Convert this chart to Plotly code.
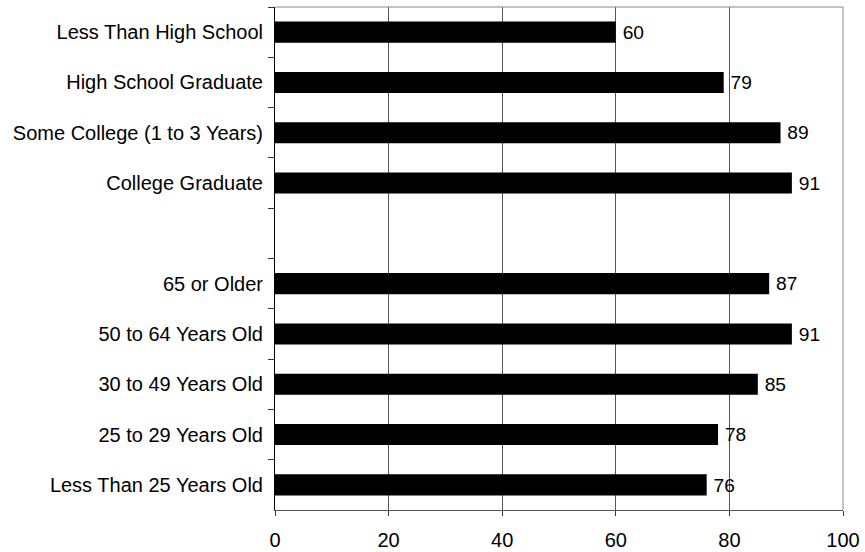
import plotly.graph_objects as go

# Survey groups, top to bottom; the blank entry separates education from age
categories = [
    "Less Than High School",
    "High School Graduate",
    "Some College (1 to 3 Years)",
    "College Graduate",
    " ",
    "65 or Older",
    "50 to 64 Years Old",
    "30 to 49 Years Old",
    "25 to 29 Years Old",
    "Less Than 25 Years Old",
]
values = [60, 79, 89, 91, None, 87, 91, 85, 78, 76]
x_ticks = [0, 20, 40, 60, 80, 100]

FONT = "Arial, Liberation Sans, sans-serif"
SIZE = 20

fig = go.Figure(
    go.Bar(
        x=values,
        y=categories,
        orientation="h",
        marker=dict(color="black", line=dict(width=0)),
        # thin space keeps the value a little clear of the bar end
        text=[("" if v is None else "\u2009" + str(v)) for v in values],
        textposition="outside",
        textfont=dict(family=FONT, size=SIZE, color="black"),
        cliponaxis=False,
        width=0.42,
        hoverinfo="x+y",
    )
)

fig.update_layout(
    width=865,
    height=552,
    margin=dict(l=275, r=22, t=7, b=42),
    paper_bgcolor="white",
    plot_bgcolor="white",
    showlegend=False,
    font=dict(family=FONT, size=SIZE, color="black"),
    xaxis=dict(
        range=[0, 100],
        tickvals=x_ticks,
        showgrid=True,
        gridcolor="#555555",
        gridwidth=1,
        showline=True,
        linecolor="#555555",
        linewidth=1,
        ticks="outside",
        ticklen=5,
        tickcolor="#333333",
        ticklabelstandoff=7,
        automargin=False,
        zeroline=False,
        tickfont=dict(family=FONT, size=SIZE, color="black"),
    ),
    yaxis=dict(
        type="category",
        categoryorder="array",
        categoryarray=categories,
        autorange="reversed",
        tickson="boundaries",
        ticks="outside",
        ticklen=6,
        tickcolor="#333333",
        ticklabelstandoff=7,
        automargin=False,
        showgrid=False,
        showline=True,
        linecolor="black",
        linewidth=1,
        zeroline=False,
        tickfont=dict(family=FONT, size=SIZE, color="black"),
    ),
    shapes=[
        # light frame along the top and right of the plot area
        dict(type="line", xref="paper", yref="paper", x0=0, x1=1, y0=1, y1=1,
             line=dict(color="#888888", width=1)),
        dict(type="line", xref="paper", yref="paper", x0=1, x1=1, y0=0, y1=1,
             line=dict(color="#888888", width=1)),
    ],
)

fig.write_html("out.html")
